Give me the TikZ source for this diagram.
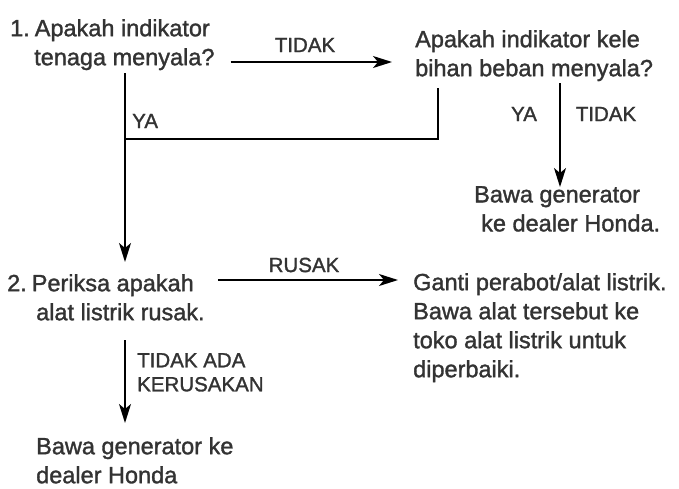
\documentclass[tikz,border=0pt]{standalone}
\usepackage{fontspec}
\setmainfont{Liberation Sans}
\newfontfamily\inkfont{Liberation Sans}[FakeBold=1.4]
\usetikzlibrary{arrows.meta,calc}
\definecolor{ink}{HTML}{333333}

\begin{document}
\begin{tikzpicture}[x=1pt,y=-1pt,
    box text/.style={anchor=north west, align=left, inner sep=0pt, text=ink, font=\inkfont\fontsize{23.5}{29}\selectfont},
    answer/.style={inner sep=0pt, text=ink, font=\inkfont\fontsize{20.5}{24}\selectfont},
    wire/.style={line width=1.6pt},
    flow/.style={wire, -{Stealth[length=19pt,width=12pt,inset=5pt]}}]
    \useasboundingbox (0,0) rectangle (679,488);
    \coordinate (bend) at (125,139);

    \node[box text] (q1) at (10,19) {1.\hspace{5pt}Apakah indikator\\\hspace*{24pt}tenaga menyala?};
    \node[box text] (q2) at (415,30) {Apakah indikator kele\\bihan beban menyala?};
    \node[box text] (r1) at (474,186) {Bawa generator\\\hspace*{7pt}ke dealer Honda.};
    \node[box text] (c2) at (7,274) {2.\hspace{5pt}Periksa apakah\\\hspace*{29pt}alat listrik rusak.};
    \node[box text] (g1) at (413,273) {Ganti perabot/alat listrik.\\Bawa alat tersebut ke\\toko alat listrik untuk\\diperbaiki.};
    \node[box text] (r2) at (36,437) {Bawa generator ke\\dealer Honda};

    \node[answer] (tidak1) at (305,45) {TIDAK};
    \node[answer, anchor=west] (ya1) at (132,121) {YA};
    \node[answer] (ya2) at (524,114) {YA};
    \node[answer] (tidak2) at (606,114) {TIDAK};
    \node[answer] (rusak) at (304,265) {RUSAK};
    \node[answer, anchor=north west, align=left] (tidakada) at (137,353) {TIDAK ADA\\KERUSAKAN};

    \draw[flow] ($(q1.north east)+(16,43)$) -- ($(q2.west |- q1.north)+(-23,43)$);
    \draw[flow] ($(bend |- q1.north)+(0,54)$) -- ($(bend |- c2.north)+(0,-12)$);
    \draw[wire] ($(q2.north west)+(23,58)$) |- (bend);
    \draw[flow] ($(q2.north west)+(145,53)$) -- ($(q2.north west |- r1.north)+(145,1)$);
    \draw[flow] ($(c2.north east)+(13,6)$) -- ($(g1.west |- c2.north)+(-15,6)$);
    \draw[flow] ($(bend |- c2.north)+(0,66)$) -- ($(bend |- r2.north)+(0,-14)$);
\end{tikzpicture}
\end{document}
